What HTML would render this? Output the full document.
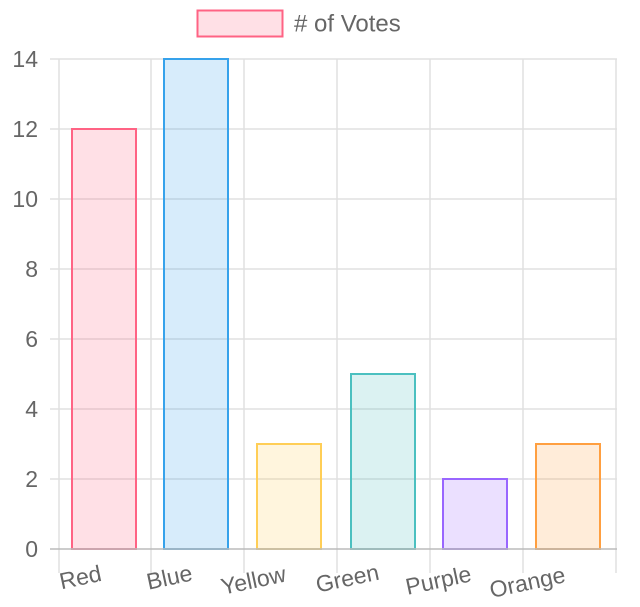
<!DOCTYPE html>
<html><head><style>
html,body{margin:0;padding:0;background:#fff;}
svg{display:block;font-family:"Liberation Sans",Arial,sans-serif;}
</style></head><body>
<svg width="640" height="607" viewBox="0 0 640 607">
<rect x="197.5" y="10.5" width="85" height="26" fill="rgba(255,99,132,0.2)" stroke="rgb(255,99,132)" stroke-width="2"/>
<text x="294" y="31.5" font-size="24" fill="#666">&#35; of Votes</text>
<g stroke="#e0e0e0" stroke-width="1.5">
<line x1="50" y1="59" x2="617" y2="59"/>
<line x1="50" y1="129" x2="617" y2="129"/>
<line x1="50" y1="199" x2="617" y2="199"/>
<line x1="50" y1="269" x2="617" y2="269"/>
<line x1="50" y1="339" x2="617" y2="339"/>
<line x1="50" y1="409" x2="617" y2="409"/>
<line x1="50" y1="479" x2="617" y2="479"/>
<line x1="59" y1="59" x2="59" y2="573"/>
<line x1="151" y1="59" x2="151" y2="573"/>
<line x1="244" y1="59" x2="244" y2="573"/>
<line x1="337" y1="59" x2="337" y2="573"/>
<line x1="430" y1="59" x2="430" y2="573"/>
<line x1="523" y1="59" x2="523" y2="573"/>
<line x1="616" y1="59" x2="616" y2="573"/>
</g>
<g font-size="23" fill="#666" text-anchor="end">
<text x="38" y="67">14</text>
<text x="38" y="137">12</text>
<text x="38" y="207">10</text>
<text x="38" y="277">8</text>
<text x="38" y="347">6</text>
<text x="38" y="417">4</text>
<text x="38" y="487">2</text>
<text x="38" y="557">0</text>
</g>
<g stroke-width="2">
<rect x="72" y="129" width="64" height="420" fill="rgba(255,99,132,0.2)" stroke="rgb(255,99,132)"/>
<rect x="164" y="59" width="64" height="490" fill="rgba(54,162,235,0.2)" stroke="rgb(54,162,235)"/>
<rect x="257" y="444" width="64" height="105" fill="rgba(255,206,86,0.2)" stroke="rgb(255,206,86)"/>
<rect x="351" y="374" width="64" height="175" fill="rgba(75,192,192,0.2)" stroke="rgb(75,192,192)"/>
<rect x="443" y="479" width="64" height="70" fill="rgba(153,102,255,0.2)" stroke="rgb(153,102,255)"/>
<rect x="536" y="444" width="64" height="105" fill="rgba(255,159,64,0.2)" stroke="rgb(255,159,64)"/>
</g>
<line x1="50" y1="549" x2="617" y2="549" stroke="#bbb" stroke-width="1.5"/>
<g font-size="23" fill="#666" text-anchor="middle">
<text transform="translate(82,585) rotate(-12)">Red</text>
<text transform="translate(171,585) rotate(-12)">Blue</text>
<text transform="translate(255,588) rotate(-12)">Yellow</text>
<text transform="translate(349,586) rotate(-12)">Green</text>
<text transform="translate(440,588) rotate(-12)">Purple</text>
<text transform="translate(529,590) rotate(-12)">Orange</text>
</g>
</svg>
</body></html>
